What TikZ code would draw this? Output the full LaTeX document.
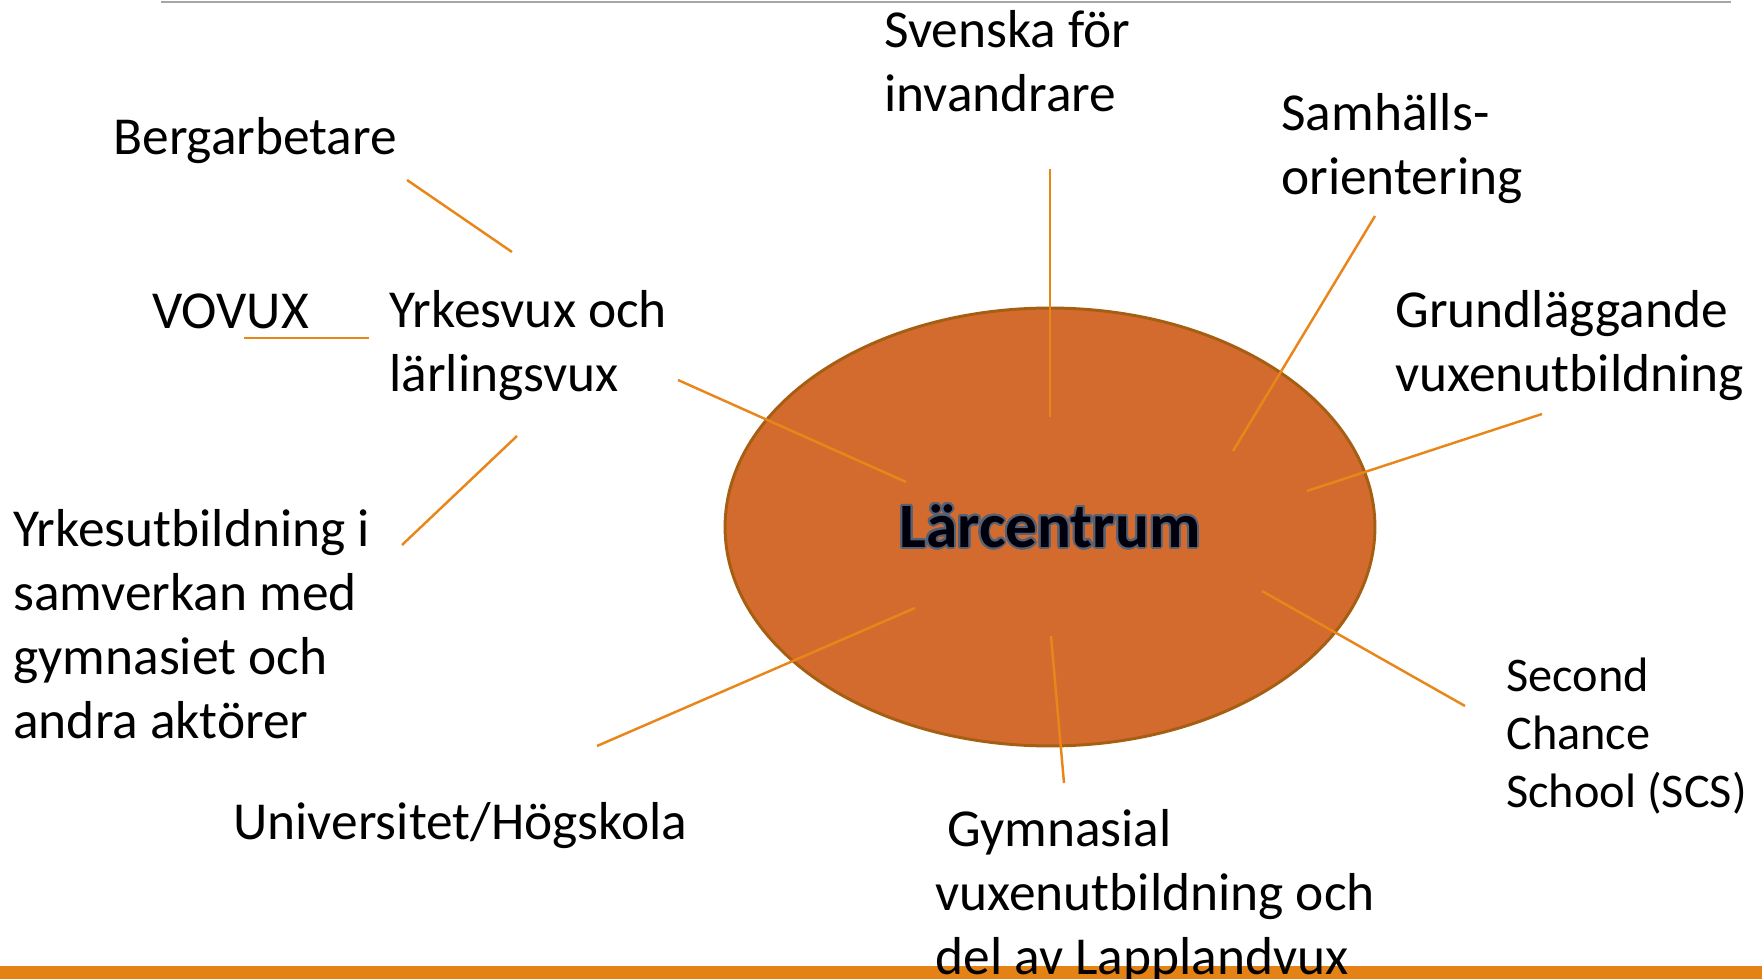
\documentclass[tikz,border=0pt]{standalone}
\usepackage{fontspec}
\setmainfont{Carlito}
\usepackage{contour}
\usetikzlibrary{shapes.geometric}
\definecolor{ellfill}{RGB}{212,107,46}
\definecolor{ellborder}{RGB}{166,95,18}
\definecolor{lineorange}{RGB}{232,134,26}
\definecolor{barorange}{RGB}{229,130,22}
\definecolor{outlinegray}{RGB}{85,98,118}
\contourlength{1.1pt}
\contournumber{24}

\begin{document}
\begin{tikzpicture}[x=0.02cm,y=-0.02cm]
  \tikzstyle{lbl}=[anchor=north west,align=left,inner sep=0,font=\fontsize{30.4}{36.4}\selectfont]
  \tikzstyle{small lbl}=[lbl,font=\fontsize{27.5}{33}\selectfont]
  \tikzstyle{conn}=[draw=lineorange,line width=1.4pt]

  \useasboundingbox (0,0) rectangle (1762,979);

  % frame of the slide
  \draw[gray!70,line width=1.1pt] (161,2) -- (1731,2);
  \fill[barorange] (0,966) rectangle (1762,979);

  % the centre
  \node(0)[ellipse,draw=ellborder,fill=ellfill,line width=1.7pt,inner sep=0,
           minimum width=13cm,minimum height=8.76cm,
           font=\fontsize{36}{40}\selectfont\bfseries] at (1050,527)
       {\contour{outlinegray}{\textcolor{black!95!blue}{Lärcentrum}}};

  % labels
  \node(1)[lbl] at (884,10) {Svenska för\\invandrare};
  \node(2)[lbl] at (1281,93) {Samhälls-\\orientering};
  \node(3)[lbl] at (1395,290) {Grundläggande\\vuxenutbildning};
  \node(4)[small lbl] at (1506,658) {Second\\Chance\\School (SCS)};
  \node(5)[lbl] at (935,809) {\hspace*{0.24cm}Gymnasial\\vuxenutbildning och\\del av Lapplandvux};
  \node(6)[lbl] at (233,802) {Universitet/Högskola};
  \node(7)[lbl] at (13,509) {Yrkesutbildning i\\samverkan med\\gymnasiet och\\andra aktörer};
  \node(8)[lbl] at (389,290) {Yrkesvux och\\lärlingsvux};
  \node(9)[lbl] at (152,293) {VOVUX};
  \node(10)[lbl] at (113,117) {Bergarbetare};

  % free ends of the connectors
  \coordinate (s1) at (1050,169);  \coordinate (e1) at (1050,417);
  \coordinate (s2) at (1375,216);  \coordinate (e2) at (1233,451);
  \coordinate (s3) at (1542,414);  \coordinate (e3) at (1307,491);
  \coordinate (s4) at (1465,706);  \coordinate (e4) at (1262,591);
  \coordinate (s5) at (1064,783);  \coordinate (e5) at (1051,636);
  \coordinate (s6) at (597,746);   \coordinate (e6) at (915,608);
  \coordinate (s7) at (402,545);   \coordinate (e7) at (517,436);
  \coordinate (s8) at (678,380);   \coordinate (e8) at (906,482);
  \coordinate (s9) at (244,338);   \coordinate (e9) at (369,338);
  \coordinate (s10) at (407,180);  \coordinate (e10) at (512,252);

  \foreach \i in {1,...,10}
    \draw[conn] (s\i) -- (e\i);
\end{tikzpicture}
\end{document}
